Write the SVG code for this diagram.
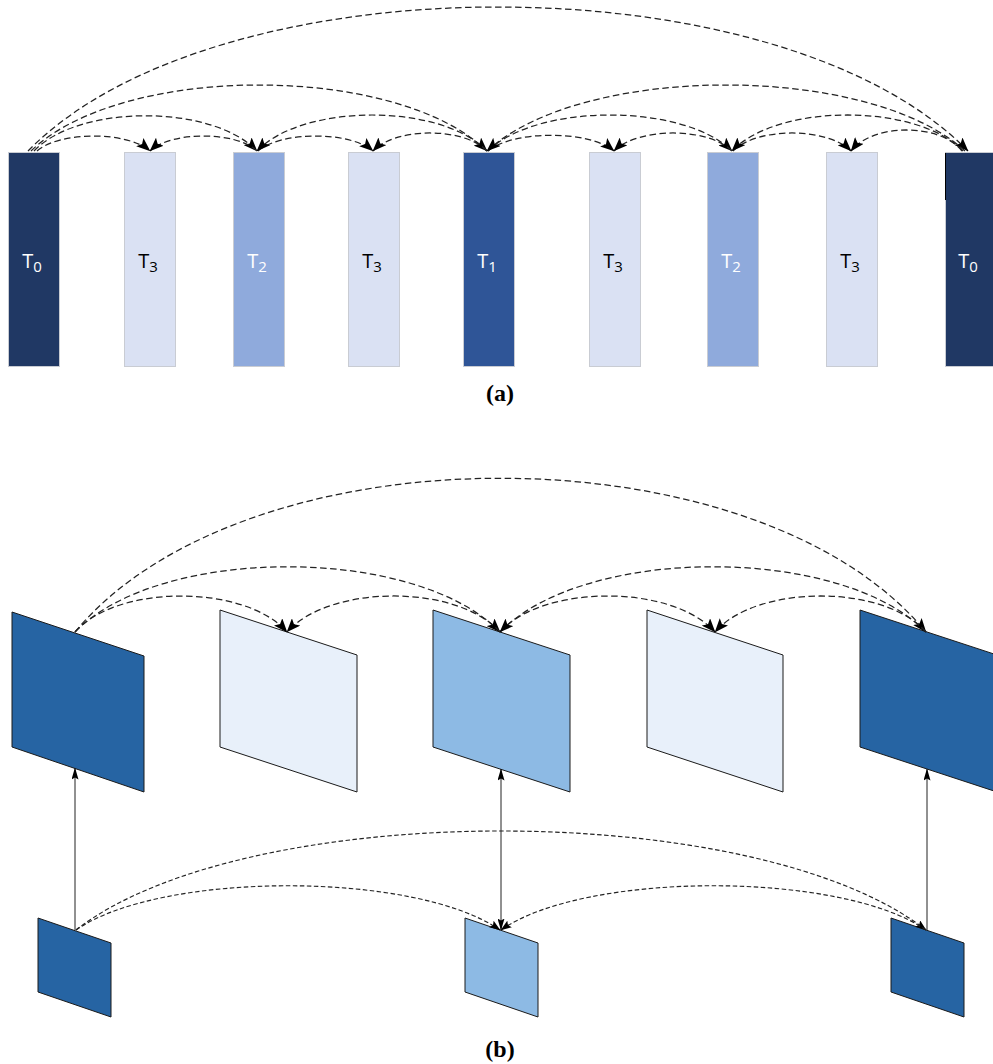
<svg xmlns="http://www.w3.org/2000/svg" width="993" height="1064" viewBox="0 0 993 1064">
  <style>
    .bar { stroke: #c9ccd3; stroke-width: 1; }
    .t0 { fill: #203864; }
    .t1 { fill: #2f5597; }
    .t2 { fill: #8faadc; }
    .t3 { fill: #dae1f3; }
    .lbl { font-family: "Open Sans", "Liberation Sans", sans-serif; font-size: 20px; text-anchor: middle; }
    .sub { font-size: 15px; }
    .wt { fill: #ffffff; }
    .bk { fill: #000000; }
    .dash { fill: none; stroke: #222; stroke-width: 1.25; stroke-dasharray: 6.5 3.5; marker-end: url(#ah); }
    .dashb { fill: none; stroke: #222; stroke-width: 1.15; stroke-dasharray: 4.5 2.5; marker-end: url(#ahs); }
    .solid { fill: none; stroke: #222; stroke-width: 1; marker-end: url(#ahv); }
    .frm { stroke: #1a1a1a; stroke-width: 1; }
    .dk { fill: #2664a3; }
    .md { fill: #8dbae4; }
    .lt { fill: #e8f0fa; }
    .cap { font-family: "Liberation Serif", serif; font-size: 24px; font-weight: bold; text-anchor: middle; fill: #000; }
  </style>
  <defs>
    <marker id="ah" viewBox="0 0 14 11" refX="13.5" refY="5.5" markerWidth="14" markerHeight="11" markerUnits="userSpaceOnUse" orient="auto">
      <path d="M0,0 L14,5.5 L0,11 L3,5.5 z" fill="#000"/>
    </marker>
    <marker id="ahs" viewBox="0 0 11 8" refX="10.5" refY="4" markerWidth="11" markerHeight="8" markerUnits="userSpaceOnUse" orient="auto">
      <path d="M0,0 L11,4 L0,8 L2,4 z" fill="#000"/>
    </marker>
    <marker id="ahv" viewBox="0 0 12 7" refX="11.5" refY="3.5" markerWidth="12" markerHeight="7" markerUnits="userSpaceOnUse" orient="auto-start-reverse">
      <path d="M0,0 L12,3.5 L0,7 L2,3.5 z" fill="#000"/>
    </marker>
  </defs>

  <!-- (a) temporal layers as bars -->
  <g id="a-f0"><rect class="bar t0" x="8.5" y="152.5" width="51" height="214"/><text class="lbl wt" x="32" y="268">T<tspan class="sub" dy="4">0</tspan></text></g>
  <g id="a-f1"><rect class="bar t3" x="124.5" y="152.5" width="51" height="214"/><text class="lbl bk" x="148" y="268">T<tspan class="sub" dy="4">3</tspan></text></g>
  <g id="a-f2"><rect class="bar t2" x="233.5" y="152.5" width="51" height="214"/><text class="lbl wt" x="257" y="268">T<tspan class="sub" dy="4">2</tspan></text></g>
  <g id="a-f3"><rect class="bar t3" x="348.5" y="152.5" width="51" height="214"/><text class="lbl bk" x="372" y="268">T<tspan class="sub" dy="4">3</tspan></text></g>
  <g id="a-f4"><rect class="bar t1" x="463.5" y="152.5" width="51" height="214"/><text class="lbl wt" x="487" y="268">T<tspan class="sub" dy="4">1</tspan></text></g>
  <g id="a-f5"><rect class="bar t3" x="589.5" y="152.5" width="51" height="214"/><text class="lbl bk" x="613" y="268">T<tspan class="sub" dy="4">3</tspan></text></g>
  <g id="a-f6"><rect class="bar t2" x="707.5" y="152.5" width="51" height="214"/><text class="lbl wt" x="731" y="268">T<tspan class="sub" dy="4">2</tspan></text></g>
  <g id="a-f7"><rect class="bar t3" x="826.5" y="152.5" width="51" height="214"/><text class="lbl bk" x="850" y="268">T<tspan class="sub" dy="4">3</tspan></text></g>
  <g id="a-f8"><rect class="bar t0" x="945.5" y="152.5" width="50" height="214"/><line x1="945.5" y1="153" x2="945.5" y2="200" stroke="#000" stroke-width="1"/><text class="lbl wt" x="968" y="268">T<tspan class="sub" dy="4">0</tspan></text></g>

  <!-- (a) reference arcs -->
  <g id="a-links">
    <path class="dash" d="M37,151 C60,131 127,131 150,151"/>
    <path class="dash" d="M34,151 C79,104 212,104 257,151"/>
    <path class="dash" d="M31,151 C122,63 396,63 487,151"/>
    <path class="dash" d="M28,151 C216,-41 780,-41 968,151"/>
    <path class="dash" d="M257,151 C236,131 171,131 150,151"/>
    <path class="dash" d="M258,151 C281,131 350,131 373,151"/>
    <path class="dash" d="M487,151 C441,103 303,103 257,151"/>
    <path class="dash" d="M487,151 C464,127 396,127 373,151"/>
    <path class="dash" d="M488,151 C513,130 589,130 614,151"/>
    <path class="dash" d="M488,151 C537,103 683,103 732,151"/>
    <path class="dash" d="M965,151 C869,63 583,63 487,151"/>
    <path class="dash" d="M732,151 C708,127 638,127 614,151"/>
    <path class="dash" d="M733,151 C757,127 827,127 851,151"/>
    <path class="dash" d="M962,151 C940,123 873,123 851,151"/>
    <path class="dash" d="M963,151 C917,103 778,103 732,151"/>
  </g>

  <text class="cap" x="500" y="401">(a)</text>

  <!-- (b) full-resolution frames -->
  <g id="b-top0"><polygon class="frm dk" points="12,612 144,656 144,792 12,747"/></g>
  <g id="b-top1"><polygon class="frm lt" points="220,610 357,655 357,792 220,747"/></g>
  <g id="b-top2"><polygon class="frm md" points="433,610 570,655 570,792 433,747"/></g>
  <g id="b-top3"><polygon class="frm lt" points="647,610 783,655 783,792 647,747"/></g>
  <g id="b-top4"><polygon class="frm dk" points="860,610 997,655 997,792 860,747"/></g>

  <!-- (b) low-resolution frames -->
  <g id="b-low0"><polygon class="frm dk" points="38,918 111,943 111,1017 38,992"/></g>
  <g id="b-low1"><polygon class="frm md" points="465,918 538,943 538,1017 465,992"/></g>
  <g id="b-low2"><polygon class="frm dk" points="891,918 964,943 964,1017 891,992"/></g>

  <!-- (b) connectors -->
  <g id="b-links">
    <path class="dash" d="M75,632 C117,584 245,584 287,632"/>
    <path class="dash" d="M75,632 C160,545 415,545 500,632"/>
    <path class="dash" d="M75,632 C245,427 756,427 926,632"/>
    <path class="dash" d="M500,632 C457,584 330,584 287,632"/>
    <path class="dash" d="M500,632 C543,584 672,584 715,632"/>
    <path class="dash" d="M926,632 C841,545 585,545 500,632"/>
    <path class="dash" d="M926,632 C884,584 757,584 715,632"/>

    <path class="dashb" d="M76,930 C246,798 756,798 926,930"/>
    <path class="dashb" d="M76,930 C161,871 415,871 500,930"/>
    <path class="dashb" d="M926,930 C841,871 585,871 501,930"/>

    <path class="solid" d="M75,930 L75,768"/>
    <path class="solid" style="marker-start:url(#ahv)" d="M501,930 L501,769"/>
    <path class="solid" d="M927,930 L927,769"/>
  </g>

  <text class="cap" x="500" y="1057">(b)</text>
</svg>
